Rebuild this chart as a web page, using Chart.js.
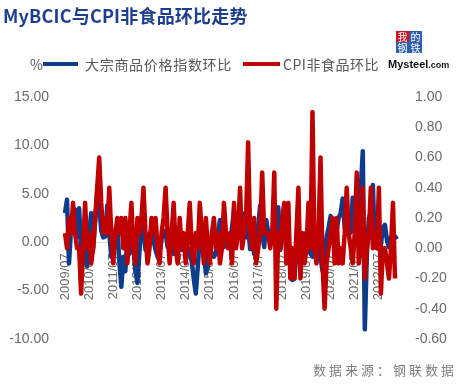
<!DOCTYPE html>
<html lang="zh">
<head>
<meta charset="UTF-8">
<title>MyBCIC与CPI非食品环比走势</title>
<script src="https://cdn.jsdelivr.net/npm/chart.js"></script>
<style>
  html, body { margin: 0; padding: 0; background: #fff; overflow: hidden; }
  #wrap { position: relative; width: 459px; height: 385px; font-family: "Noto Sans CJK SC", "Noto Sans", sans-serif; }
  #chart { position: absolute; left: 0; top: 0; }
  .title { position: absolute; left: 3px; top: 2px; font-size: 18px; font-weight: bold; color: #1f3e8c; letter-spacing: 0.2px; white-space: nowrap; }
  .legend { position: absolute; top: 55px; font-size: 14px; color: #595959; line-height: 18px; white-space: nowrap; }
  .swatch { position: absolute; height: 4px; top: 62px; }
  .src { position: absolute; left: 313px; top: 360px; font-size: 13px; color: #808080; letter-spacing: 3px; white-space: nowrap; }
  .cell { position: absolute; width: 13px; height: 11px; color: #fff; font-size: 10px; line-height: 11px; text-align: center; }
  .ms { position: absolute; left: 388px; top: 58px; font-family: "Liberation Sans", Arial, sans-serif; font-weight: bold; font-size: 11px; color: #111; white-space: nowrap; }
  .ms span { font-size: 9px; }
</style>
</head>
<body>
<div id="wrap">
  <canvas id="chart" width="459" height="385"></canvas>
  <div class="title">MyBCIC与CPI非食品环比走势</div>
  <div class="legend" style="left:30px;">%</div>
  <div class="swatch" style="left:43px;width:35px;background:#0b3d8c;"></div>
  <div class="legend" style="left:85px;letter-spacing:0.7px;">大宗商品价格指数环比</div>
  <div class="swatch" style="left:243px;width:37px;background:#c00000;"></div>
  <div class="legend" style="left:283px;letter-spacing:0.5px;">CPI非食品环比</div>
  <div class="cell" style="left:396px;top:31px;background:#d0121b;">我</div>
  <div class="cell" style="left:409px;top:31px;background:#2f5fae;">的</div>
  <div class="cell" style="left:396px;top:42px;background:#2f5fae;">钢</div>
  <div class="cell" style="left:409px;top:42px;background:#2f5fae;">铁</div>
  <div class="ms">Mysteel<span>.com</span></div>
  <div class="src">数据来源：钢联数据</div>
</div>
<script>
  // 月度标签 2009/07 - 2023/04
  const months = [];
  for (let y = 2009, m = 7; months.length < 166; m++) {
    if (m > 12) { m = 1; y++; }
    months.push(y + '/' + String(m).padStart(2, '0'));
  }

  // 大宗商品价格指数环比 (%)，左轴
  const bcicMoM = [
    3.0, 4.4, -2.2, 1.5, 2.8, 3.4, 0.5, 3.5, -0.5, 1.0, -1.8, -2.5,
    0.8, 3.0, -0.6, 2.2, 5.2, 4.0, 1.2, 0.5, 0.6, 3.8, 1.0, -1.5,
    0.8, -0.5, 1.5, -2.0, -4.6, -1.5, -3.0, 0.5, -1.2, 1.0, -0.5, -3.0,
    -4.2, -1.0, 1.5, 2.0, -0.8, -0.5, 0.9, 1.2, 0.2, -0.8, -1.5, -1.0,
    0.3, 1.2, 1.0, -0.5, 0.3, -1.0, -1.2, 0.2, 0.9, -0.5, -0.8, -0.2,
    -1.5, -0.6, -1.2, -2.0, -3.8, -5.3, -2.5, 0.5, -0.2, -1.0, -3.2, -2.6,
    -0.5, -1.2, -1.5, -1.2, 0.5, 2.3, 1.0, -0.5, 0.3, 0.0, -0.5, 1.5,
    3.3, 2.0, 1.0, 2.5, 3.0, 1.5, 0.5, 1.8, -0.7, 0.3, -1.2, -1.5,
    1.5, 3.8, 1.0, -0.5, 2.3, 1.0, 0.3, 1.2, 0.0, 2.0, 3.6, -0.8,
    0.5, 2.3, 2.2, 0.5, -2.0, -3.9, -3.8, -1.0, 0.2, -1.5, 0.3, 0.8,
    1.0, -0.5, -1.2, -1.5, 0.3, -0.2, -0.8, -1.5, -3.0, -1.0, 0.5, 1.5,
    2.7, 0.5, 1.8, 1.2, 2.5, 3.0, 4.5, 1.5, 2.0, 2.0, 1.0, 4.6,
    2.5, 1.5, 3.0, 5.5, 9.4, -9.0, -1.5, 2.5, 3.0, 5.9, -0.5, -0.6,
    0.5, -0.3, 1.5, 1.8, 0.2, -0.5, 0.5, 0.8, 0.6, 0.3
  ];

  // CPI非食品环比 (%)，右轴
  const cpiNonFoodMoM = [
    0.1, 0.0, 0.2, 0.1, 0.3, 0.1, 0.0, 0.0, -0.3, 0.0, 0.3, 0.0,
    0.1, -0.1, 0.0, 0.2, 0.4, 0.6, 0.3, 0.1, 0.2, 0.1, 0.4, 0.1,
    -0.1, 0.1, 0.2, 0.1, 0.2, 0.0, 0.2, -0.1, 0.1, 0.3, 0.0, -0.1,
    0.2, 0.1, 0.2, 0.4, 0.1, -0.1, 0.0, 0.2, 0.1, 0.2, 0.0, -0.1,
    0.1, 0.2, 0.4, 0.1, -0.1, 0.1, 0.3, 0.0, -0.1, 0.2, 0.0, 0.1,
    -0.1, 0.1, 0.3, 0.0, -0.1, 0.1, 0.0, 0.3, 0.1, -0.1, 0.2, 0.0,
    -0.1, 0.1, 0.2, 0.0, 0.1, -0.1, 0.0, 0.3, 0.1, 0.0, 0.1, -0.1,
    0.3, 0.0, 0.1, 0.4, 0.0, 0.1, 0.2, 0.7, 0.1, 0.0, 0.2, -0.1,
    0.0, 0.1, 0.5, 0.1, 0.1, 0.1, 0.0, 0.1, 0.5, -0.4, 0.1, 0.0,
    0.2, 0.3, -0.1, 0.3, -0.2, 0.0, -0.2, 0.1, 0.4, -0.2, 0.1, -0.1,
    0.0, 0.3, 0.0, 0.9, 0.0, -0.1, 0.1, 0.6, -0.1, -0.4, -0.1, 0.0,
    0.1, 0.2, -0.1, 0.2, -0.1, 0.0, -0.1, 0.1, 0.4, 0.1, 0.0, -0.1,
    0.1, 0.5, -0.1, 0.0, 0.4, -0.2, 0.0, 0.1, 0.4, 0.0, 0.1, 0.0,
    0.4, -0.3, 0.0, 0.0, -0.1, -0.2, 0.0, 0.3, -0.2, null
  ];

  const tickFont = { family: 'Liberation Sans', size: 14 };
  const tickColor = '#6b6b6b';

  new Chart(document.getElementById('chart'), {
    type: 'line',
    data: {
      labels: months,
      datasets: [
        {
          label: '大宗商品价格指数环比',
          data: bcicMoM,
          yAxisID: 'y',
          borderColor: '#0b3d8c',
          borderWidth: 4.5,
          pointRadius: 0,
          tension: 0,
          borderJoinStyle: 'round',
          order: 2
        },
        {
          label: 'CPI非食品环比',
          data: cpiNonFoodMoM,
          yAxisID: 'y1',
          borderColor: '#c00000',
          borderWidth: 4.5,
          pointRadius: 0,
          tension: 0,
          borderJoinStyle: 'round',
          order: 1
        }
      ]
    },
    options: {
      responsive: false,
      animation: false,
      devicePixelRatio: 1,
      layout: { padding: { top: 97, bottom: 46, left: 0, right: 0 } },
      plugins: { legend: { display: false }, tooltip: { enabled: false } },
      scales: {
        x: {
          position: { y: 0 },
          grid: { display: false, drawTicks: false },
          border: { display: true, color: '#d9d9d9', width: 1 },
          ticks: {
            autoSkip: false,
            minRotation: 90,
            maxRotation: 90,
            padding: 11,
            color: tickColor,
            font: { family: 'Liberation Sans', size: 13 },
            callback: function (v, i) {
              return months[i].endsWith('/07') ? months[i] : null;
            }
          }
        },
        y: {
          position: 'left',
          min: -10,
          max: 15,
          grid: { display: false },
          border: { display: false },
          ticks: { stepSize: 5, color: tickColor, font: tickFont, padding: 8,
                   callback: v => v.toFixed(2) },
          afterFit: s => { s.width = 65; }
        },
        y1: {
          position: 'right',
          min: -0.6,
          max: 1.0,
          grid: { display: false },
          border: { display: false },
          ticks: { stepSize: 0.2, color: tickColor, font: tickFont, padding: 10,
                   callback: v => v.toFixed(2) },
          afterFit: s => { s.width = 62; }
        }
      }
    }
  });
</script>
</body>
</html>
